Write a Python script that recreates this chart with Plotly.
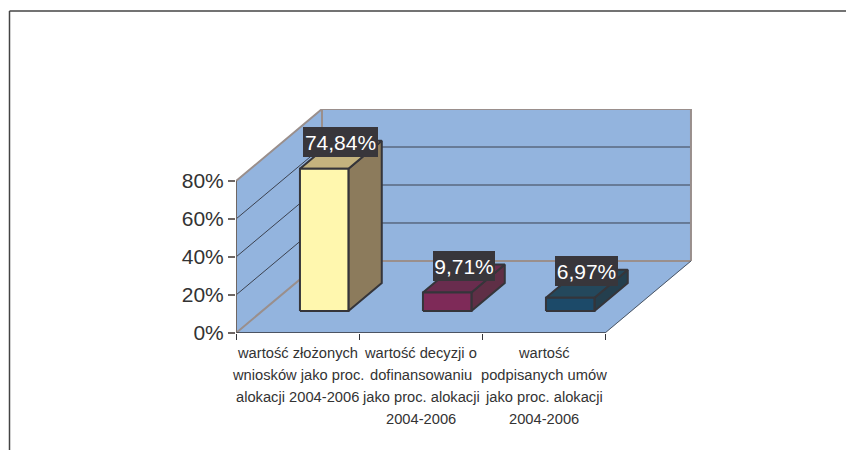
import plotly.graph_objects as go

# ---- data ----
category_lines = [
    ["wartość złożonych", "wniosków jako proc.", "alokacji 2004-2006"],
    ["wartość decyzji o", "dofinansowaniu", "jako proc. alokacji", "2004-2006"],
    ["wartość", "podpisanych umów", "jako proc. alokacji", "2004-2006"],
]
values = [74.84, 9.71, 6.97]
value_labels = ["74,84%", "9,71%", "6,97%"]
y_ticks = [0, 20, 40, 60, 80]

# ---- styles ----
front_colors = ["#FFF7AE", "#7E2A58", "#1C4A69"]
top_colors = ["#C4B37E", "#692C4E", "#24485C"]
side_colors = ["#8C7B5C", "#5F2F46", "#243F4E"]
label_box_widths = [75, 62, 63]
WALL = "#93B4DE"
SEAM = "#9A8F8C"
DARK = "#35353A"
TEXT = "#333333"

# oblique projection: a step of depth d (0 front .. 1 back) moves the point on the axes
SHIFT_X = 0.699   # categories
SHIFT_Y = 37.9    # percent
GAP = 0.306
BAR_W = 0.394
D0, D1 = 0.306, 0.694


def pt(x, y, d):
    return x + d * SHIFT_X, y + d * SHIFT_Y


def poly(points, fill, line_color, line_width):
    xs, ys = zip(*(pt(*p) for p in points))
    return go.Scatter(x=list(xs) + [xs[0]], y=list(ys) + [ys[0]], mode="lines", fill="toself",
                      fillcolor=fill, line=dict(color=line_color, width=line_width),
                      hoverinfo="skip", showlegend=False, cliponaxis=False)


def seg(points, color, width):
    xs, ys = zip(*(pt(*p) for p in points))
    return go.Scatter(x=list(xs), y=list(ys), mode="lines", line=dict(color=color, width=width),
                      hoverinfo="skip", showlegend=False, cliponaxis=False)


n = len(values)
top = y_ticks[-1]
fig = go.Figure()

# walls and floor
fig.add_trace(poly([(0, 0, 0), (0, top, 0), (0, top, 1), (0, 0, 1)], WALL, WALL, 0.5))
fig.add_trace(poly([(0, 0, 1), (0, top, 1), (n, top, 1), (n, 0, 1)], WALL, WALL, 0.5))
fig.add_trace(poly([(0, 0, 0), (n, 0, 0), (n, 0, 1), (0, 0, 1)], WALL, WALL, 0.5))

# gridlines on both walls
for v in y_ticks[1:-1]:
    fig.add_trace(seg([(0, v, 0), (0, v, 1), (n, v, 1)], "#3C4250", 1))

# wall and floor edges
fig.add_trace(seg([(0, top, 0), (0, top, 1), (n, top, 1), (n, 0, 1)], SEAM, 2))
fig.add_trace(seg([(0, top, 1), (0, 0, 1)], SEAM, 2))
fig.add_trace(seg([(0, 0, 0), (0, 0, 1), (n, 0, 1)], SEAM, 2))
fig.add_trace(seg([(n, 0, 0), (n, 0, 1)], "#4B5563", 1))

# bars
for i, v in enumerate(values):
    a, b = i + GAP, i + GAP + BAR_W
    fig.add_trace(poly([(b, 0, D0), (b, 0, D1), (b, v, D1), (b, v, D0)], side_colors[i], DARK, 2))
    fig.add_trace(poly([(a, v, D0), (b, v, D0), (b, v, D1), (a, v, D1)], top_colors[i], DARK, 2))
    fig.add_trace(poly([(a, 0, D0), (b, 0, D0), (b, v, D0), (a, v, D0)], front_colors[i], DARK, 2))

# axis lines
fig.add_trace(seg([(0, 0, 0), (n, 0, 0)], DARK, 1.5))
fig.add_trace(seg([(0, 0, 0), (0, top, 0)], "#6F6764", 2))

annotations = []
# data labels
for i, (v, label) in enumerate(zip(values, value_labels)):
    x, y = pt(i + GAP + BAR_W / 2, v, 0.5)
    annotations.append(dict(x=x, y=y, xref="x", yref="y", text=label, showarrow=False, yshift=13,
                            width=label_box_widths[i], height=30, align="center", valign="middle",
                            bgcolor="#38363B", borderpad=0, borderwidth=0,
                            font=dict(family="Liberation Sans", size=21, color="#FFFFFF")))
# category labels, line by line
for i, lines in enumerate(category_lines):
    for j, line in enumerate(lines):
        annotations.append(dict(x=i + 0.5, y=0, xref="x", yref="y", text=line, showarrow=False,
                                yshift=-(20 + 22 * j), xanchor="center", yanchor="middle",
                                font=dict(family="Liberation Sans", size=14.7, color=TEXT)))

# chart frame
L, T, W, H = 236, 109, 456, 224
frame = [
    dict(type="line", xref="paper", yref="paper", x0=(9.5 - L) / W, x1=(846 - L) / W,
         y0=(T + H - 11) / H, y1=(T + H - 11) / H, line=dict(color="#444444", width=1.5)),
    dict(type="line", xref="paper", yref="paper", x0=(9.5 - L) / W, x1=(9.5 - L) / W,
         y0=(T + H - 11) / H, y1=(T + H - 450) / H, line=dict(color="#444444", width=1.5)),
]

fig.update_layout(
    width=846, height=450, autosize=False,
    margin=dict(l=L, r=846 - L - W, t=T, b=450 - T - H),
    paper_bgcolor="white", plot_bgcolor="white",
    showlegend=False, annotations=annotations, shapes=frame,
    font=dict(family="Liberation Sans", color=TEXT),
    xaxis=dict(range=[0, W / 123.0], showgrid=False, zeroline=False, showline=False,
               tickvals=[], showticklabels=False,
               minor=dict(tickmode="array", tickvals=list(range(n + 1)), ticks="outside",
                          ticklen=6, tickwidth=1, tickcolor=DARK, showgrid=False)),
    yaxis=dict(range=[0, top + SHIFT_Y], showgrid=False, zeroline=False, showline=False,
               tickvals=y_ticks, ticktext=[f"{v}%" for v in y_ticks], ticks="outside",
               ticklen=7, tickwidth=1.5, tickcolor="#6F6764",
               tickfont=dict(family="Liberation Sans", size=21, color=TEXT)),
)

fig.write_html("out.html", config={"displayModeBar": False},
               post_script="document.documentElement.style.overflow='hidden';document.body.style.margin='0';")
